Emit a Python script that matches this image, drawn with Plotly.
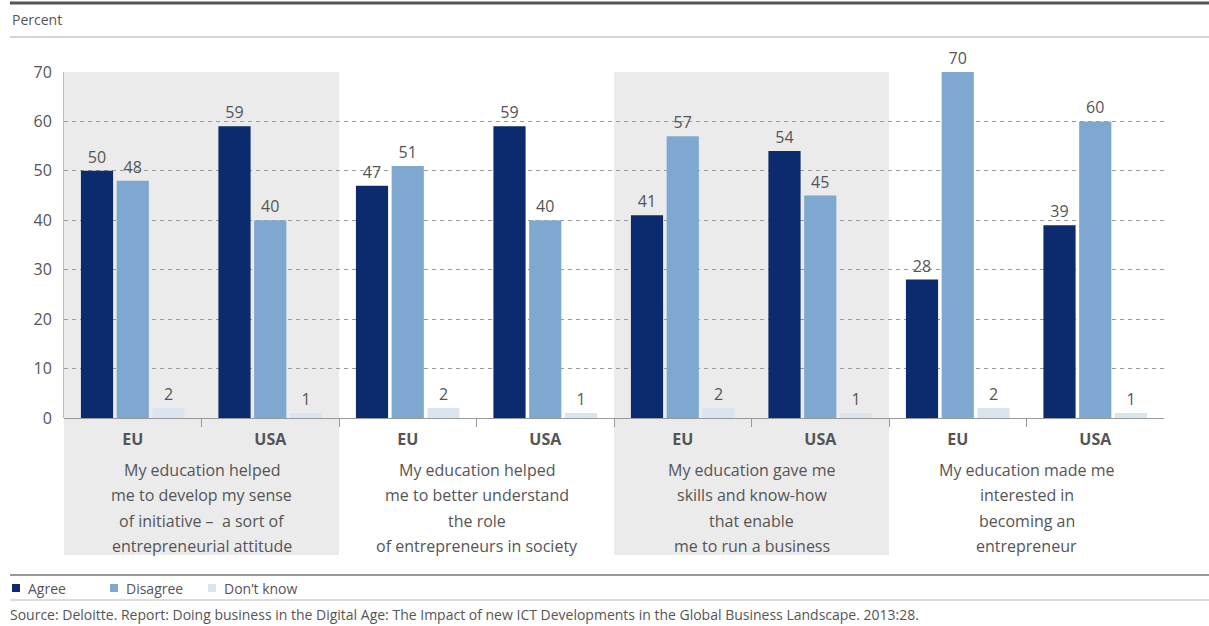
import plotly.graph_objects as go

# Survey answers, in percent, per region within each statement
regions = ["EU", "USA", "EU", "USA", "EU", "USA", "EU", "USA"]
statements = [
    "My education helped\nme to develop my sense\nof initiative –  a sort of\nentrepreneurial attitude",
    "My education helped\nme to better understand\nthe role\nof entrepreneurs in society",
    "My education gave me\nskills and know-how\nthat enable\nme to run a business",
    "My education made me\ninterested in\nbecoming an\nentrepreneur",
]
agree = [50, 59, 47, 59, 41, 54, 28, 39]
disagree = [48, 40, 51, 40, 57, 45, 70, 60]
dont_know = [2, 1, 2, 1, 2, 1, 2, 1]
series_names = ["Agree", "Disagree", "Don’t know"]
series_colors = ["#0c2a6e", "#7ea8d0", "#dbe5ef"]
y_ticks = [0, 10, 20, 30, 40, 50, 60, 70]
source_text = ("Source: Deloitte. Report: Doing business in the Digital Age: The Impact of new ICT "
               "Developments in the Global Business Landscape. 2013:28.")

W, H = 1209, 626
ML, MR, MT, MB = 64, 45, 72, 208
PLOT_W = W - ML - MR
PLOT_H = H - MT - MB
FONT = "Open Sans"
GREY_TXT = "#555555"


def py(pix):
    """Pixel row -> paper y coordinate."""
    return (H - MB - pix) / PLOT_H


def px(pix):
    """Pixel column -> paper x coordinate."""
    return (pix - ML) / PLOT_W


x = list(range(len(regions)))

fig = go.Figure()
for name, vals, col in zip(series_names, [agree, disagree, dont_know], series_colors):
    fig.add_trace(go.Bar(
        x=x, y=vals, name=name, marker=dict(color=col, line=dict(width=0)),
        text=vals, textposition="outside", texttemplate="%{text}",
        textfont=dict(family=FONT, size=16, color=GREY_TXT),
        cliponaxis=False, constraintext="none", showlegend=False,
    ))

shapes = []
# shaded panels behind the first and third statements
for g in (0, 2):
    shapes.append(dict(type="rect", xref="x", yref="paper",
                       x0=2 * g - 0.5, x1=2 * g + 1.5, y0=py(555), y1=1,
                       fillcolor="#ebebeb", line=dict(width=0), layer="below"))
# frame rules above and below the chart
shapes += [
    dict(type="line", xref="paper", yref="paper", x0=px(10), x1=px(W), y0=py(3), y1=py(3),
         line=dict(color="#555555", width=3)),
    dict(type="line", xref="paper", yref="paper", x0=px(10), x1=px(W), y0=py(37), y1=py(37),
         line=dict(color="#aaaaaa", width=1)),
    dict(type="line", xref="paper", yref="paper", x0=px(10), x1=px(W), y0=py(575), y1=py(575),
         line=dict(color="#999999", width=2)),
    dict(type="line", xref="paper", yref="paper", x0=px(10), x1=px(W), y0=py(600), y1=py(600),
         line=dict(color="#bbbbbb", width=1)),
]

annotations = [
    dict(text="Percent", xref="paper", yref="paper", x=px(10), y=py(20),
         xanchor="left", yanchor="middle", showarrow=False,
         font=dict(family=FONT, size=14, color=GREY_TXT)),
    dict(text=source_text, xref="paper", yref="paper", x=px(8), y=py(614),
         xanchor="left", yanchor="middle", showarrow=False,
         font=dict(family=FONT, size=14, color=GREY_TXT)),
]
line_rows = [470, 495, 521, 546]
for g, stmt in enumerate(statements):
    for row, line in zip(line_rows, stmt.split("\n")):
        annotations.append(dict(
            text=line, xref="x", yref="paper", x=2 * g + 0.5, y=py(row),
            xanchor="center", yanchor="middle", showarrow=False,
            font=dict(family=FONT, size=16, color=GREY_TXT)))

# key below the chart: small square swatch followed by the series name
legend_left = [12, 110, 208]
for left, name, col in zip(legend_left, series_names, series_colors):
    shapes.append(dict(type="rect", xref="paper", yref="paper",
                       x0=px(left), x1=px(left + 8), y0=py(592), y1=py(584),
                       fillcolor=col, line=dict(width=0)))
    annotations.append(dict(text=name, xref="paper", yref="paper", x=px(left + 14), y=py(588),
                            xanchor="left", yanchor="middle", showarrow=False,
                            font=dict(family=FONT, size=14, color=GREY_TXT)))

fig.update_layout(
    width=W, height=H,
    margin=dict(l=ML, r=MR, t=MT, b=MB, autoexpand=False),
    paper_bgcolor="white", plot_bgcolor="rgba(0,0,0,0)",
    barmode="group", bargap=0.22, bargroupgap=0.1,
    font=dict(family=FONT, color=GREY_TXT),
    shapes=shapes, annotations=annotations,
    showlegend=False,
    xaxis=dict(range=[-0.5, len(regions) - 0.5], tickmode="array", tickvals=x, ticktext=regions,
               ticks="", showgrid=False, showline=False, zeroline=False,
               tickfont=dict(family=FONT, size=16, color=GREY_TXT, weight="bold"),
               ticklabelstandoff=10,
               minor=dict(tickmode="array", tickvals=[i + 0.5 for i in range(len(regions) - 1)],
                          ticks="outside", ticklen=8, tickcolor="#999999", tickwidth=1,
                          showgrid=False)),
    yaxis=dict(range=[0, 70], tickmode="array", tickvals=y_ticks,
               showgrid=True, gridcolor="#9a9a9a", griddash="4px,4px", gridwidth=1,
               zeroline=True, zerolinecolor="#999999", zerolinewidth=1,
               showline=True, linecolor="#bbbbbb", linewidth=1,
               ticks="", ticklabelstandoff=8,
               tickfont=dict(family=FONT, size=16, color=GREY_TXT)),
)

fig.write_html("out.html")
